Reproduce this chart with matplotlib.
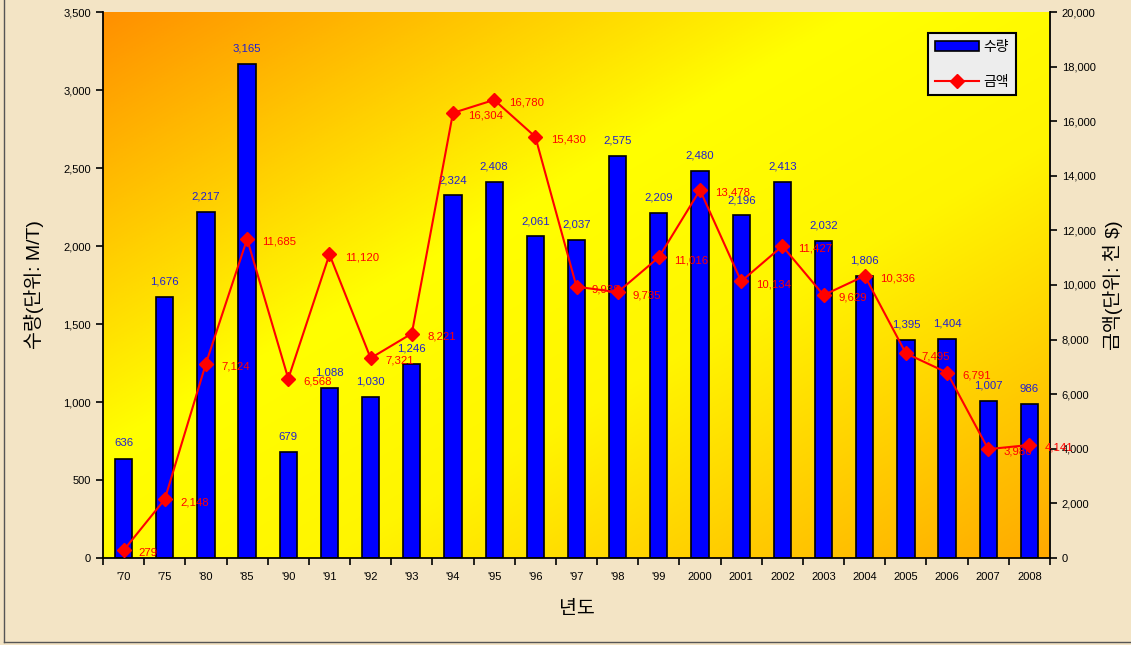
import numpy as np
import matplotlib.pyplot as plt
from matplotlib.colors import LinearSegmentedColormap
from matplotlib.lines import Line2D
from matplotlib.patches import Patch

plt.rcParams['font.family'] = ['Liberation Sans', 'Noto Sans CJK KR', 'DejaVu Sans']

years = ["'70", "'75", "'80", "'85", "'90", "'91", "'92", "'93", "'94", "'95", "'96", "'97",
         "'98", "'99", "2000", "2001", "2002", "2003", "2004", "2005", "2006", "2007", "2008"]
qty = [636, 1676, 2217, 3165, 679, 1088, 1030, 1246, 2324, 2408, 2061, 2037,
       2575, 2209, 2480, 2196, 2413, 2032, 1806, 1395, 1404, 1007, 986]
amount = [279, 2148, 7124, 11685, 6568, 11120, 7321, 8221, 16304, 16780, 15430, 9938,
          9735, 11016, 13478, 10134, 11427, 9629, 10336, 7495, 6791, 3986, 4141]

fig = plt.figure(figsize=(11.31, 6.45), dpi=100, facecolor='#F3E4C5')
ax = fig.add_axes([103/1131, 1 - 558/645, 947/1131, 546/645])

# diagonal orange -> yellow -> orange background
grad_cmap = LinearSegmentedColormap.from_list(
    'bg', [(0, '#FF9000'), (0.4, '#FFFF00'), (0.62, '#FFF500'), (1, '#FFAA00')])
gx, gy = np.meshgrid(np.linspace(0, 1, 300), np.linspace(0, 1, 300))
ax.imshow((gx + gy) / 2, cmap=grad_cmap, extent=[0, 1, 0, 1], transform=ax.transAxes,
          aspect='auto', zorder=0, interpolation='bilinear')

x = np.arange(len(years))
ax.bar(x, qty, width=0.42, color='#0000FF', edgecolor='black', linewidth=1.2, zorder=2)
for xi, q in zip(x, qty):
    ax.annotate(f'{q:,}', (xi, q), xytext=(0, 7.5), textcoords='offset points',
                ha='center', va='bottom', color='#2020D0', fontsize=8.2, zorder=3)

ax.set_xlim(-0.5, len(years) - 0.5)
ax.set_ylim(0, 3500)
ax.set_yticks(range(0, 3501, 500))
ax.set_yticklabels([f'{v:,}' for v in range(0, 3501, 500)], fontsize=8)
ax.set_xticks(x)
ax.set_xticklabels(years, fontsize=8)
ax.set_xticks(np.arange(-0.5, len(years), 1), minor=True)
ax.tick_params(axis='x', which='major', length=0, pad=10)
ax.tick_params(axis='x', which='minor', length=5, width=1.2, direction='out')
ax.tick_params(axis='y', length=5, width=1.2, direction='out')
for s in ['top', 'right']:
    ax.spines[s].set_visible(False)
for s in ['left', 'bottom']:
    ax.spines[s].set_linewidth(1.3)
ax.set_ylabel('수량(단위: M/T)', fontsize=14, labelpad=14)
ax.set_xlabel('년도', fontsize=14, labelpad=14)

ax2 = ax.twinx()
ax2.plot(x, amount, color='#FF0000', lw=1.5, marker='D', markersize=7, zorder=4)
for xi, a in zip(x, amount):
    ax2.annotate(f'{a:,}', (xi, a), xytext=(11, -2), textcoords='offset points',
                 ha='left', va='center', color='#FF0000', fontsize=8.2)
ax2.set_ylim(0, 20000)
ax2.set_yticks(range(0, 20001, 2000))
ax2.set_yticklabels([f'{v:,}' for v in range(0, 20001, 2000)], fontsize=8)
ax2.tick_params(axis='y', length=5, width=1.2, direction='out')
for s in ['top', 'left', 'bottom']:
    ax2.spines[s].set_visible(False)
ax2.spines['right'].set_linewidth(1.3)
ax2.set_ylabel('금액(단위: 천 $)', fontsize=14, rotation=90, labelpad=5)

handles = [Patch(facecolor='#0000FF', edgecolor='black', linewidth=1.2),
           Line2D([], [], color='#FF0000', lw=1.5, marker='D', markersize=7)]
leg = ax2.legend(handles, ['수량', '금액'], loc='upper right', bbox_to_anchor=(0.964, 0.962),
                 borderaxespad=0, fancybox=False, framealpha=1, fontsize=10,
                 handlelength=3.2, labelspacing=1.5, handletextpad=0.3, borderpad=0.5)
leg.get_frame().set_facecolor('#EDEDED')
leg.get_frame().set_edgecolor('black')
leg.get_frame().set_linewidth(1.5)

# thin frame around the slide
fig.add_artist(Line2D([4/1131, 4/1131], [3/645, 1], color='#555555', lw=1))
fig.add_artist(Line2D([4/1131, 1], [3/645, 3/645], color='#555555', lw=1))

fig.savefig('out.png', dpi=100, facecolor=fig.get_facecolor())
